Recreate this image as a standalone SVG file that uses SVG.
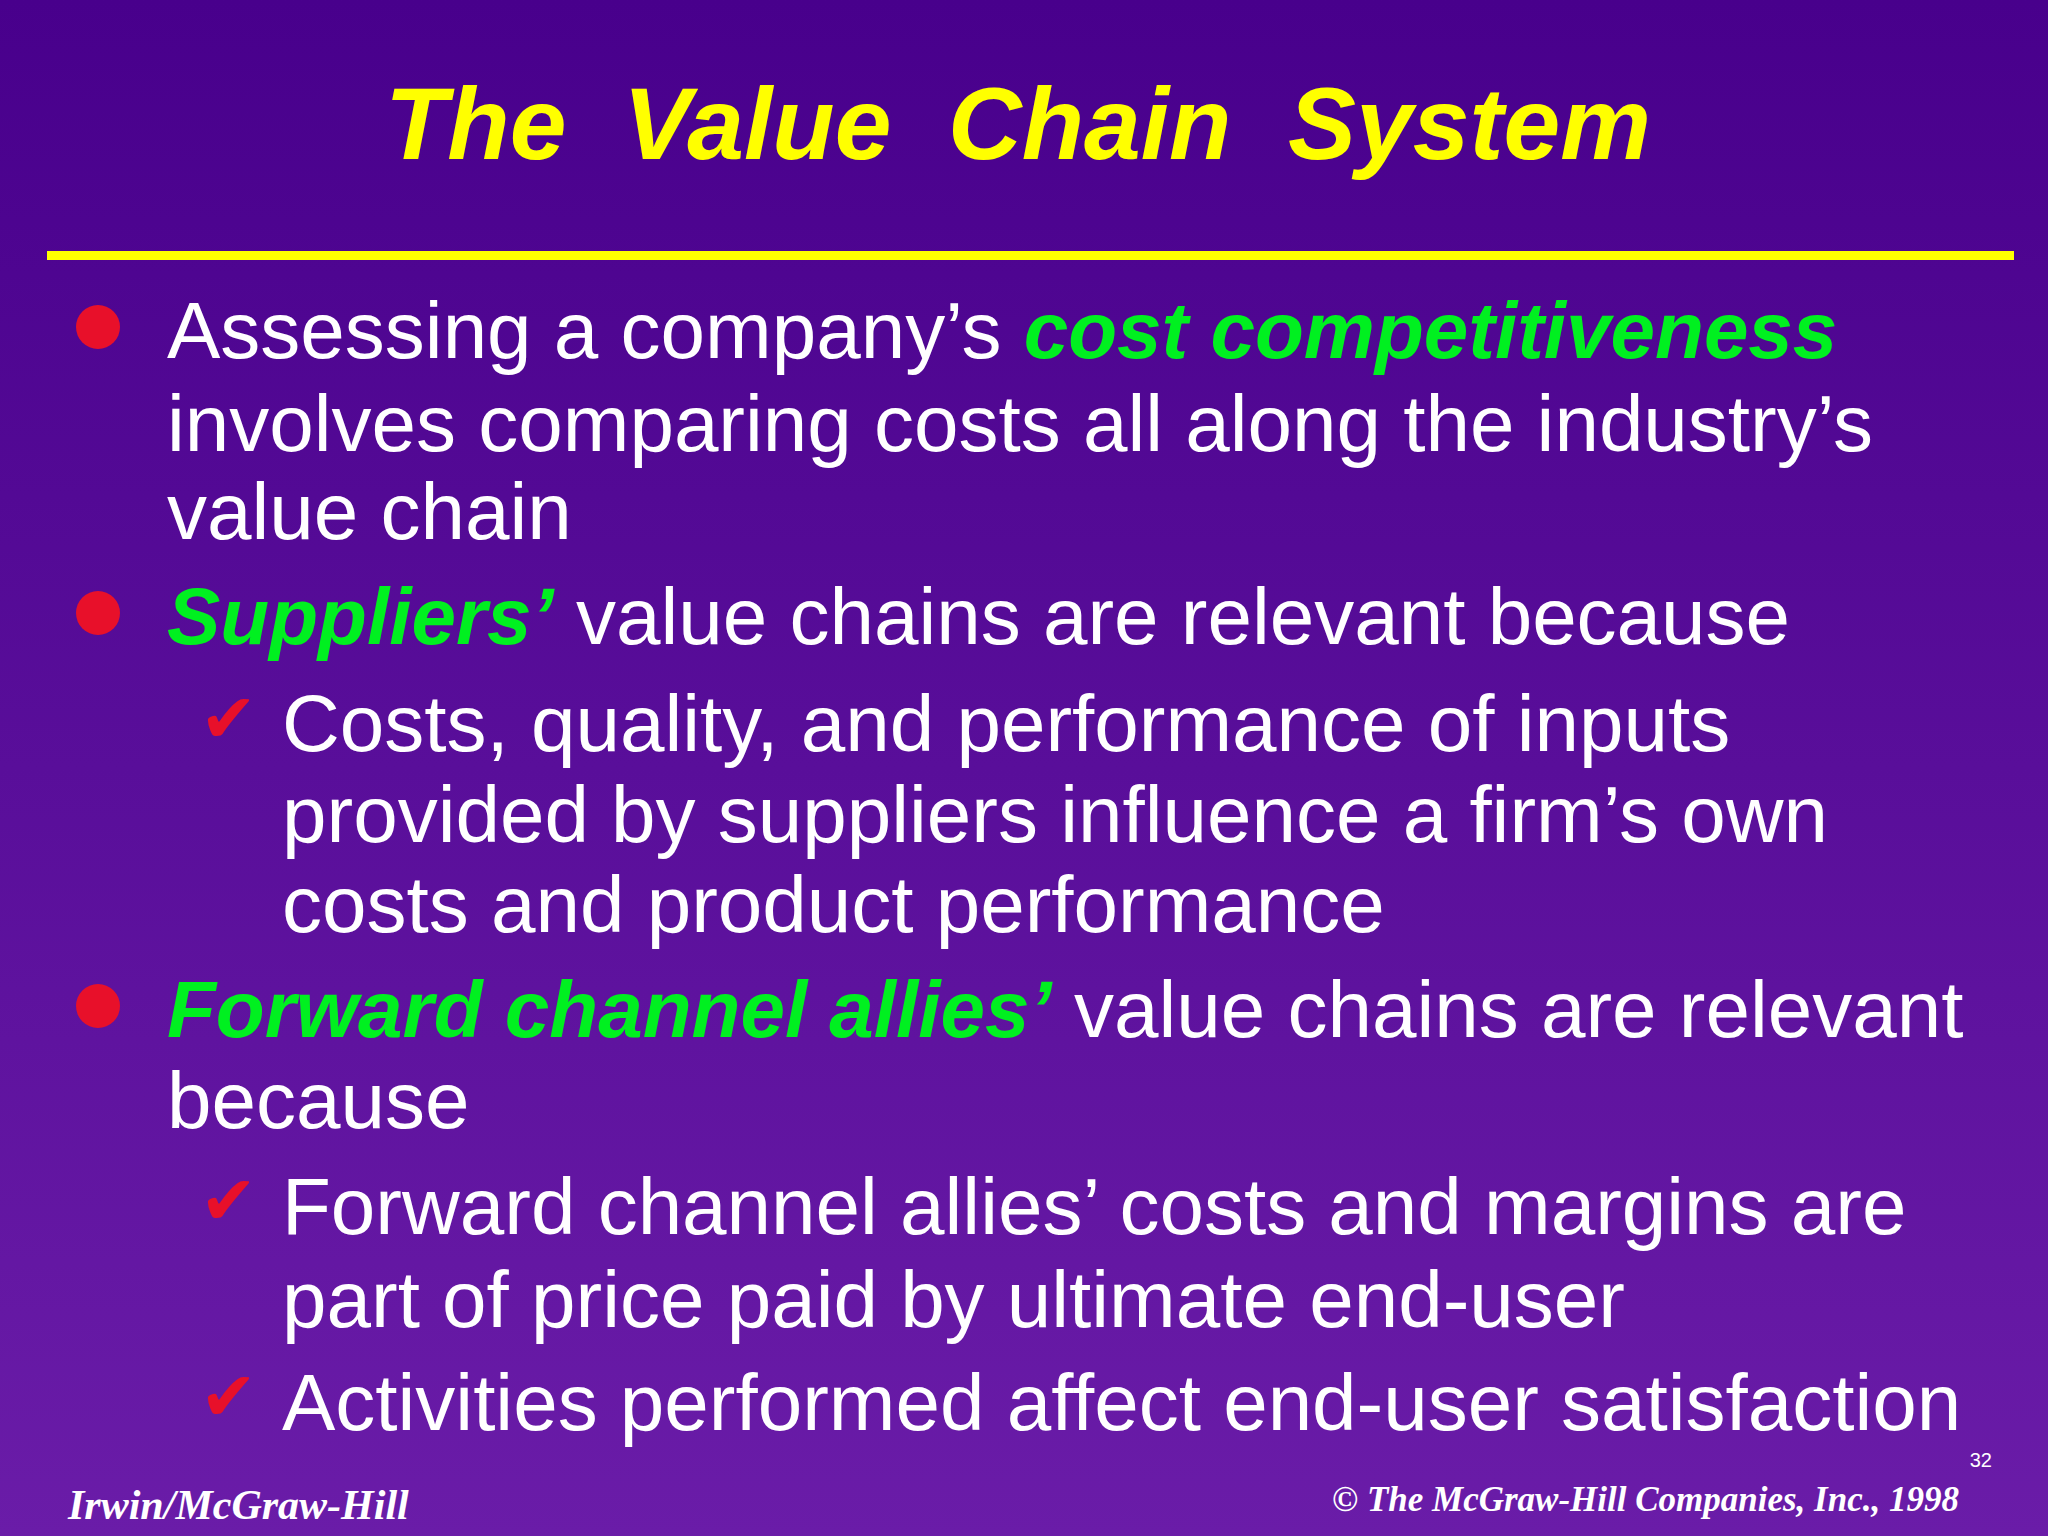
<svg xmlns="http://www.w3.org/2000/svg" width="2048" height="1536" viewBox="0 0 2048 1536">
<defs>
<linearGradient id="bg" x1="0" y1="0" x2="0" y2="1"><stop offset="0" stop-color="#48008c"/><stop offset="1" stop-color="#6a1ca8"/></linearGradient>
<style>
.b{font-family:"Liberation Sans",Arial,sans-serif;font-size:80px;fill:#fff}
.g{fill:#00f020;font-weight:bold;font-style:italic}
.ck{font-family:"DejaVu Sans",sans-serif;font-size:68px;fill:#e8102a}
.f{font-family:"Liberation Serif",serif;font-style:italic;fill:#fff}
</style>
</defs>
<rect width="2048" height="1536" fill="url(#bg)"/>
<g id="title"><text x="1018" y="159" text-anchor="middle" font-family="Liberation Sans,Arial,sans-serif" font-weight="bold" font-style="italic" font-size="102" fill="#ffff00" xml:space="preserve">The  Value  Chain  System</text>
<rect x="47" y="251" width="1967" height="9" fill="#ffff00"/></g>
<g id="bullets" fill="#e8102a"><circle cx="98" cy="327" r="22"/><circle cx="98" cy="613" r="22"/><circle cx="98" cy="1006" r="22"/></g>
<g id="checks" class="ck"><text x="200" y="742">✔</text><text x="200" y="1224">✔</text><text x="200" y="1420">✔</text></g>
<g id="body" class="b">
<text x="167" y="358">Assessing a company’s <tspan class="g">cost competitiveness</tspan></text>
<text x="167" y="451">involves comparing costs all along the industry’s</text>
<text x="167" y="539">value chain</text>
<text x="167" y="644"><tspan class="g">Suppliers’</tspan> value chains are relevant because</text>
<text x="282" y="751">Costs, quality, and performance of inputs</text>
<text x="282" y="842">provided by suppliers influence a firm’s own</text>
<text x="282" y="932">costs and product performance</text>
<text x="167" y="1037"><tspan class="g">Forward channel allies’</tspan> value chains are relevant</text>
<text x="167" y="1128">because</text>
<text x="282" y="1234">Forward channel allies’ costs and margins are</text>
<text x="282" y="1327">part of price paid by ultimate end-user</text>
<text x="282" y="1430">Activities performed affect end-user satisfaction</text>
</g>
<g id="footer">
<text x="1992" y="1467" text-anchor="end" font-family="Liberation Sans,sans-serif" font-size="20" fill="#fff">32</text>
<text x="68" y="1519" class="f" font-size="42" font-weight="bold">Irwin/McGraw-Hill</text>
<text x="1959" y="1511" class="f" font-size="35" font-weight="bold" text-anchor="end">© The McGraw-Hill Companies, Inc., 1998</text>
</g>
</svg>
